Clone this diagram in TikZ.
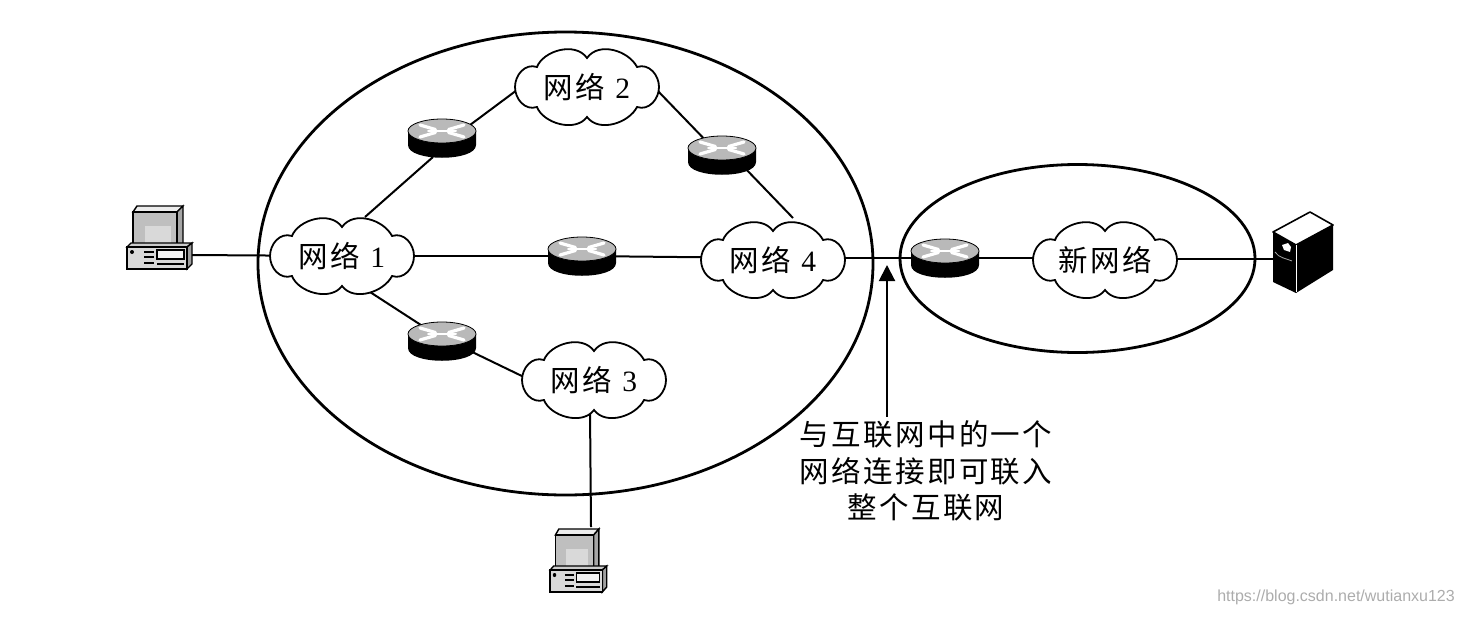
\documentclass[tikz,border=0pt]{standalone}
\usepackage{fontspec}
\setmainfont{Liberation Serif}
\newfontfamily\cjk[LetterSpace=8]{Noto Sans CJK SC}
\newfontfamily\wmfont{Liberation Sans}
\usetikzlibrary{shapes.geometric,backgrounds,arrows.meta}
\tikzset{
  x=1pt,y=-1pt,
  link/.style={draw=black,line width=2pt},
  ring/.style={draw=black,line width=2.8pt,ellipse,inner sep=0pt,outer sep=0pt},
  anchorbox/.style={inner sep=0pt,outer sep=0pt,minimum width=#1},
  cloudline/.style={draw=black,fill=white,line width=1.8pt},
  cloudtext/.style={inner sep=0pt,font=\fontsize{29.5}{34}\selectfont},
  pics/router/.style={code={
    \fill[black] (-34,-7) -- (-34,7) .. controls (-34,24) and (34,24) .. (34,7) -- (34,-7) -- cycle;
    \fill[gray!55,draw=black,line width=.8pt] (0,-7) ellipse[x radius=34,y radius=12];
    \foreach \a/\b in {-22/-13,22/-13,-22/-1,22/-1}{
      \draw[white,line width=3.2pt,line cap=round] (\a*.3,{-7+(\b+7)*.25}) -- (\a,\b);
    }
    \draw[white,line width=2pt,line cap=round] (-14,-7) -- (14,-7);
  }},
  pics/pcbox/.style={code={
    \draw[black,line width=1.4pt,fill=gray!15] (-26,-26)--(-22,-32)--(24,-32)--(18,-26)--cycle;
    \draw[black,line width=1.4pt,fill=gray!70] (18,-26)--(24,-32)--(24,7)--(18,9)--cycle;
    \draw[black,line width=1.4pt,fill=gray!50] (-26,-26) rectangle (18,9);
    \fill[gray!30] (-14,-12) rectangle (12,7);
    \draw[black,line width=1.4pt,fill=gray!40] (-32,9)--(-28,5)--(33,5)--(28,9)--cycle;
    \draw[black,line width=1.4pt,fill=gray!75] (28,9)--(33,5)--(33,26)--(28,31)--cycle;
    \draw[black,line width=1.6pt,fill=gray!30] (-32,9) rectangle (28,31);
    \fill[black] (-27,14) circle[radius=2];
    \foreach \yy in {14,19,25}{\draw[black,line width=1.6pt] (-15,\yy) -- (-5,\yy);}
    \draw[black,line width=1.2pt,fill=gray!10] (-2,12) rectangle (25,21);
    \draw[black,line width=1.2pt] (-2,26) -- (25,26);
  }},
}
\newcommand{\netcloud}[4]{%
  \begin{scope}[shift={(#2,#3)}]
    \draw[cloudline] (-50,-20)
      .. controls (-44,-36) and (-12,-46) .. (0,-29)
      .. controls (12,-46) and (42,-36) .. (50,-20)
      .. controls (62,-24) and (72,-12) .. (72,0)
      .. controls (72,12) and (62,24) .. (50,20)
      .. controls (42,36) and (12,46) .. (0,30)
      .. controls (-12,46) and (-44,36) .. (-50,20)
      .. controls (-62,24) and (-72,12) .. (-72,0)
      .. controls (-72,-12) and (-62,-24) .. (-50,-20) -- cycle;
  \end{scope}
  \node[cloudtext] (#1) at (#2,#3) {#4};%
}
\newcommand{\routernode}[3]{%
  \pic at (#2,#3) {router};
  \node[anchorbox=68pt,minimum height=38pt] (#1) at (#2,#3) {};%
}
\begin{document}
\begin{tikzpicture}
\useasboundingbox (0,0) rectangle (1464,616);

\routernode{ra}{442}{138}
\routernode{rb}{722}{155}
\routernode{rc}{582}{256}
\routernode{rd}{442}{341}
\routernode{re}{945}{258}

\netcloud{neta}{342}{256}{{\cjk 网络}\hspace{10pt}1}
\netcloud{netb}{587}{87}{{\cjk 网络}\hspace{10pt}2}
\netcloud{netc}{594}{380}{{\cjk 网络}\hspace{10pt}3}
\netcloud{netd}{773}{260}{{\cjk 网络}\hspace{10pt}4}
\netcloud{nete}{1105}{260}{{\cjk 新网络}}

\pic at (159,238) {pcbox};
\node[anchorbox=66pt,minimum height=63pt] (pca) at (159,238) {};
\pic[xscale=.87] at (578,561) {pcbox};
\node[anchorbox=57pt,minimum height=65pt] (pcb) at (578,561) {};

% server
\node[anchorbox=60pt,minimum height=81pt] (srv) at (1303,252) {};
\fill[black] (1273,232) -- (1296,245) -- (1296,293) -- (1273,282) -- cycle;
\fill[black] (1333,225) -- (1296,245) -- (1296,293) -- (1333,270) -- cycle;
\draw[black,line width=1.6pt,fill=white,line join=round] (1273,232) -- (1310,212) -- (1333,225) -- (1296,245) -- cycle;
\draw[white,line width=1pt] (1296,245) -- (1296,292);
\fill[white] (1282,245) -- (1288,243) -- (1291,247) -- (1290,252) -- (1284,250) -- cycle;
\draw[gray!70,line width=.8pt] (1275,252) .. controls (1279,258) and (1285,258) .. (1292,261);

\node[inner sep=0pt,align=center,font=\fontsize{29.5}{36.5}\selectfont] (note) at (926,471)
  {{\cjk 与互联网中的一个}\\{\cjk 网络连接即可联入}\\{\cjk 整个互联网}};
\coordinate (tip) at (887,265);
\draw[link,-{Triangle[length=16pt,width=16pt]}] ([yshift=4pt]note.north -| tip) -- (tip);

\node[font=\wmfont\fontsize{16}{20}\selectfont,text=gray!65,inner sep=0pt] (wm) at (1336,597) {https://blog.csdn.net/wutianxu123};

\begin{scope}[on background layer]
  \node[ring,minimum width=615pt,minimum height=463pt] (big) at (565.5,263.5) {};
  \node[ring,minimum width=355pt,minimum height=188pt] (small) at (1077.5,258.5) {};
  \draw[link] ([shift={(31,17)}]pca.center) -- (neta.center);
  \draw[link] ([shift={(23,-39)}]neta.center) -- ([shift={(-9,19)}]ra.center);
  \draw[link] ([shift={(24,-10)}]ra.center) -- ([shift={(-70,3)}]netb.center);
  \draw[link] ([shift={(68,1)}]netb.center) -- ([shift={(-10,-8)}]rb.center);
  \draw[link] ([shift={(20,10)}]rb.center) -- ([shift={(20,-42)}]netd.center);
  \draw[link] (neta.center) -- (rc.center);
  \draw[link] (rc.center) -- ([shift={(0,-2)}]netd.center);
  \draw[link] ([shift={(28,36)}]neta.center) -- ([shift={(-18,-14)}]rd.center);
  \draw[link] ([shift={(24,8)}]rd.center) -- ([shift={(-68,-2)}]netc.center);
  \draw[link] ([shift={(-4,30)}]netc.center) -- ([shift={(13,-34)}]pcb.center);
  \draw[link] ([shift={(0,-2)}]netd.center) -- (re.center);
  \draw[link] (re.center) -- ([shift={(0,-2)}]nete.center);
  \draw[link] ([shift={(0,-1)}]nete.center) -- ([shift={(-28,7)}]srv.center);
\end{scope}
\end{tikzpicture}
\end{document}
